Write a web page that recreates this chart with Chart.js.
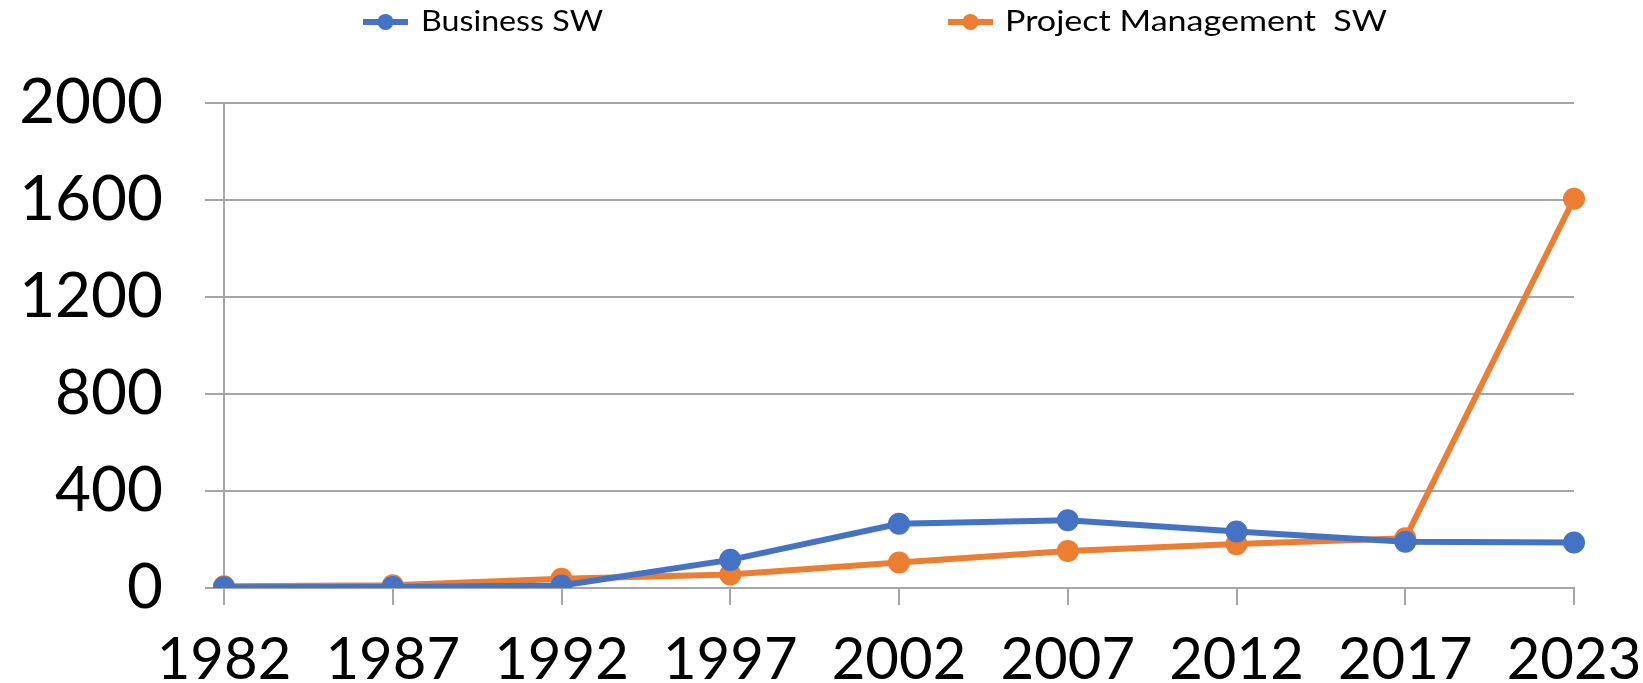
<!DOCTYPE html>
<html>
<head>
<meta charset="utf-8">
<script src="https://cdn.jsdelivr.net/npm/chart.js@4"></script>
<style>
  html, body { margin: 0; padding: 0; background: #fff; }
  #chart { display: block; }
</style>
</head>
<body>
<canvas id="chart" width="1643" height="683"></canvas>
<script>
// data
const years = ['1982', '1987', '1992', '1997', '2002', '2007', '2012', '2017', '2023'];
const businessSW = [3, 4, 10, 116, 265, 279, 233, 191, 188];
const projectSW = [7, 11, 38, 56, 105, 153, 181, 205, 1605];
const seriesNames = ['Business SW', 'Project Management  SW'];
const seriesColors = ['#4472C4', '#ED7D31'];
const yTicks = [0, 400, 800, 1200, 1600, 2000];

const gridGray = '#a6a6a6';

// Excel-style legend: short line with a dot, then the label
const lineLegend = {
    id: 'lineLegend',
    afterDraw(chart) {
        const ctx = chart.ctx;
        const items = [
            { x: 363, textX: 421, width: 182 },
            { x: 948, textX: 1005, width: 382 }
        ];
        const y = 22;
        ctx.save();
        items.forEach((it, i) => {
            ctx.strokeStyle = seriesColors[i];
            ctx.fillStyle = seriesColors[i];
            ctx.lineWidth = 6;
            ctx.beginPath();
            ctx.moveTo(it.x, y);
            ctx.lineTo(it.x + 45, y);
            ctx.stroke();
            ctx.beginPath();
            ctx.arc(it.x + 22.5, y, 8, 0, Math.PI * 2);
            ctx.fill();

            ctx.font = '28px Lato';
            ctx.fillStyle = '#000';
            ctx.textBaseline = 'middle';
            const w = ctx.measureText(seriesNames[i]).width;
            ctx.save();
            ctx.translate(it.textX, y);
            ctx.scale(it.width / w, 1);
            ctx.fillText(seriesNames[i], 0, 0);
            ctx.restore();
        });
        ctx.restore();
    }
};

const ctx = document.querySelector('#chart').getContext('2d');
const chart = new Chart(ctx, {
    type: 'line',
    data: {
        labels: years,
        datasets: [businessSW, projectSW].map((vals, i) => ({
            label: seriesNames[i],
            data: vals,
            borderColor: seriesColors[i],
            backgroundColor: seriesColors[i],
            borderWidth: 6,
            pointRadius: 8,
            pointHoverRadius: 8,
            tension: 0
        }))
    },
    options: {
        responsive: false,
        animation: false,
        layout: { autoPadding: false, padding: { top: 103, right: 69, left: 0, bottom: 0 } },
        plugins: {
            legend: { display: false },
            tooltip: { enabled: false }
        },
        scales: {
            x: {
                offset: false,
                grid: {
                    drawOnChartArea: false,
                    drawTicks: true,
                    tickLength: 17,
                    color: gridGray,
                    lineWidth: 2
                },
                border: { color: gridGray, width: 2 },
                ticks: {
                    color: '#000',
                    font: { family: 'Lato', size: 58 },
                    padding: 20,
                    maxRotation: 0,
                    autoSkip: false
                },
                afterFit: scale => {
                    scale.height = 95;
                    scale.paddingLeft = 0;
                    scale.paddingRight = 0;
                }
            },
            y: {
                min: 0,
                max: 2000,
                afterBuildTicks: scale => {
                    scale.ticks = yTicks.map(v => ({ value: v }));
                },
                grid: {
                    color: gridGray,
                    lineWidth: 2,
                    tickLength: 19
                },
                border: { color: gridGray, width: 2 },
                ticks: {
                    color: '#000',
                    font: { family: 'Lato', size: 62 },
                    padding: 42,
                    callback: v => String(v)
                },
                afterFit: scale => {
                    scale.width = 224;
                    scale.paddingTop = 0;
                    scale.paddingBottom = 0;
                }
            }
        }
    },
    plugins: [lineLegend]
});
</script>
</body>
</html>
